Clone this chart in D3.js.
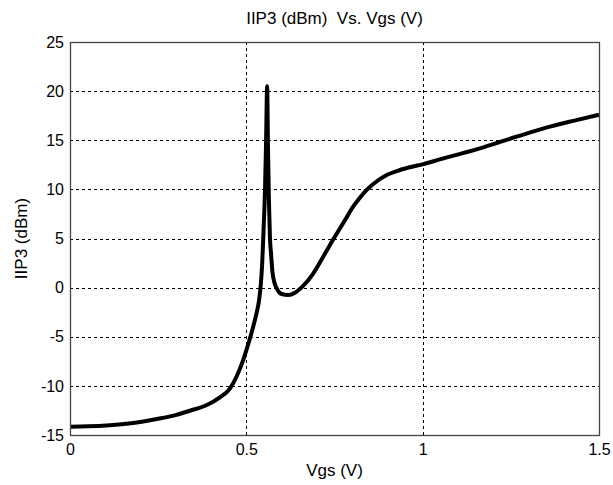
<!DOCTYPE html>
<html><head><meta charset="utf-8">
<script src="https://cdn.jsdelivr.net/npm/d3@7"></script>
<style>body{margin:0;background:#fff}svg{display:block}</style>
</head><body><svg id="c" width="613" height="485"></svg>
<script>
const titleText = "IIP3 (dBm)  Vs. Vgs (V)";
const xLabel = "Vgs (V)";
const yLabel = "IIP3 (dBm)";
const xTicks = [0, 0.5, 1, 1.5];
const yTicks = [-15, -10, -5, 0, 5, 10, 15, 20, 25];
const vgs  = [0, 0.05, 0.113, 0.16, 0.208, 0.25, 0.302, 0.34, 0.388, 0.425, 0.454, 0.472, 0.491, 0.506, 0.52, 0.529, 0.536, 0.541, 0.545, 0.549, 0.553, 0.556, 0.559, 0.5615, 0.564, 0.567, 0.570, 0.574, 0.579, 0.586, 0.6, 0.619, 0.638, 0.661, 0.69, 0.718, 0.747, 0.78, 0.80, 0.822, 0.84, 0.86, 0.898, 0.936, 0.97, 1.0, 1.049, 1.077, 1.172, 1.266, 1.361, 1.43, 1.5];
const iip3 = [-14.15, -14.12, -14.0, -13.85, -13.62, -13.35, -12.95, -12.53, -11.95, -11.17, -10.25, -9.07, -7.37, -5.67, -3.9, -2.6, -1.3, 0.3, 2.5, 6.0, 10.0, 15.0, 20.5, 14.0, 9.0, 5.0, 3.5, 1.6, 0.6, -0.05, -0.65, -0.75, -0.52, 0.17, 1.46, 3.15, 4.95, 6.88, 8.1, 9.15, 9.9, 10.55, 11.46, 11.97, 12.3, 12.55, 13.05, 13.33, 14.28, 15.36, 16.38, 17.0, 17.6];

const svg = d3.select("#c");
const L = 70, R = 599, T = 42, B = 435;
const x = d3.scaleLinear().domain([0, 1.5]).range([L, R]);
const y = d3.scaleLinear().domain([-15, 25]).range([B, T]);
const font = "Liberation Sans, Arial, sans-serif";

// grid
const grid = svg.append("g").attr("stroke", "#000").attr("stroke-width", 1).attr("stroke-dasharray", "3,3").attr("shape-rendering", "crispEdges");
xTicks.slice(1, -1).forEach(t => grid.append("line").attr("x1", Math.round(x(t)) + 0.5).attr("x2", Math.round(x(t)) + 0.5).attr("y1", T).attr("y2", B));
yTicks.slice(1, -1).forEach(t => grid.append("line").attr("y1", Math.round(y(t)) + 0.5).attr("y2", Math.round(y(t)) + 0.5).attr("x1", L).attr("x2", R));

// curve
const data = vgs.map((v, i) => [v, iip3[i]]);
svg.append("path").datum(data)
  .attr("fill", "none").attr("stroke", "#000").attr("stroke-width", 4).attr("stroke-linejoin", "round")
  .attr("d", d3.line().x(d => x(d[0])).y(d => y(d[1])).curve(d3.curveMonotoneX));

// axes
const fmt = d => String(d);
const xa = svg.append("g").attr("transform", `translate(0,${B})`).call(d3.axisBottom(x).tickValues(xTicks).tickSize(0).tickPadding(9).tickFormat(fmt));
const ya = svg.append("g").attr("transform", `translate(${L},0)`).call(d3.axisLeft(y).tickValues(yTicks).tickSize(0).tickPadding(6).tickFormat(fmt));
[xa, ya].forEach(a => { a.select(".domain").remove(); a.selectAll("text").attr("font-family", font).attr("font-size", 16).attr("fill", "#000"); });

// box
svg.append("rect").attr("x", L + 0.5).attr("y", T + 0.5).attr("width", R - L).attr("height", B - T)
  .attr("fill", "none").attr("stroke", "#444").attr("stroke-width", 1.3);

svg.append("text").attr("x", (L + R) / 2).attr("y", 24).attr("text-anchor", "middle").attr("font-family", font).attr("font-size", 17).style("white-space", "pre").text(titleText);
svg.append("text").attr("x", (L + R) / 2).attr("y", 476).attr("text-anchor", "middle").attr("font-family", font).attr("font-size", 17).text(xLabel);
svg.append("text").attr("transform", `translate(27,${(T + B) / 2}) rotate(-90)`).attr("text-anchor", "middle").attr("font-family", font).attr("font-size", 17).text(yLabel);
</script></body></html>
